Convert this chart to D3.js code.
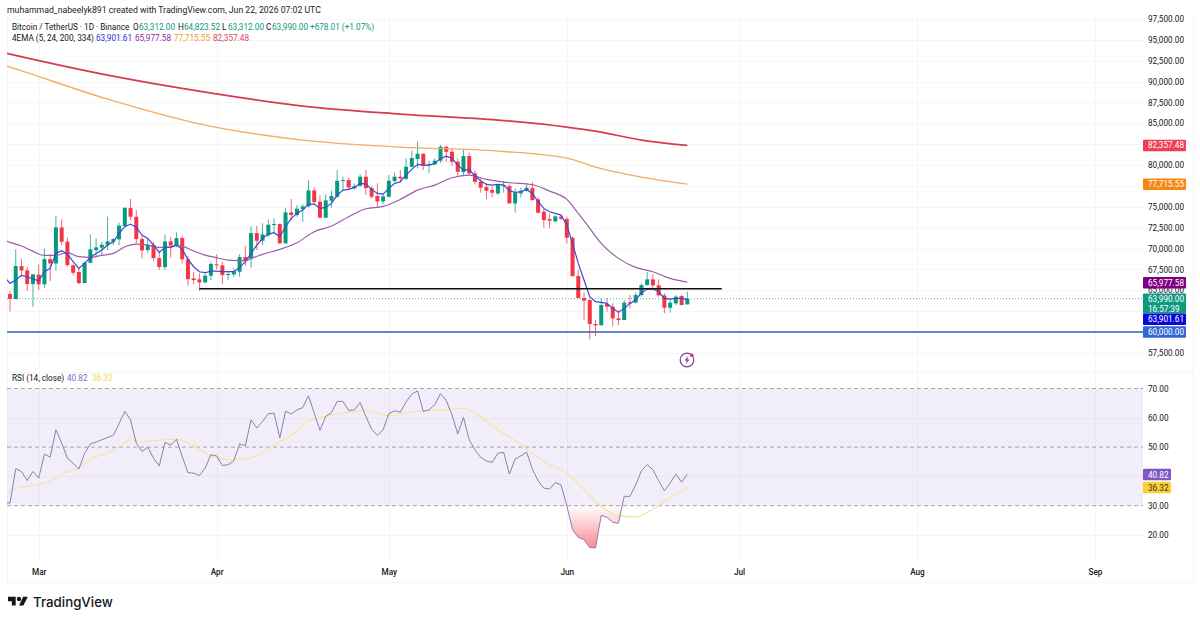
<!DOCTYPE html>
<html>
<head>
<meta charset="utf-8">
<title>Bitcoin / TetherUS daily</title>
<script src="https://d3js.org/d3.v7.min.js"></script>
<style>
  html, body { margin: 0; padding: 0; background: #fff; }
  svg { display: block; font-family: Roboto, sans-serif; }
  text { fill: #131722; }
</style>
</head>
<body>
<svg id="chart" width="1200" height="622"></svg>
<script>
// Daily BTC/USDT candles, one entry per day from 24 Feb 2026 to 22 Jun 2026.
const opens = [64550,63950,67900,67385,65750,66865,65710,68740,68220,72535,70820,67985,67185,65870,68305,69820,70100,70460,70820,71100,
  72695,74850,73810,71135,69820,70460,68860,67785,70860,70340,71255,68705,66425,66305,65950,66745,68105,67985,66865,66905,
  67225,68980,68825,71855,70940,71575,72815,72935,70620,74330,74010,74730,75050,76965,75610,73695,75730,76210,78165,78205,
  77205,77525,78605,77245,76290,75650,76210,78085,78605,78365,79800,80720,81360,79960,80080,80520,82195,81595,80400,79160,
  81080,79000,78005,77365,77005,76605,77525,77485,75410,76605,76925,77245,75890,74410,73535,73255,73815,73535,71295,66705,
  64070,63830,60960,60800,63355,63035,61635,61435,63555,63515,64430,65630,66305,65590,64390,62915,63435,64310,63312];
const highs = [64950,69900,68780,67825,66945,68105,70020,69300,73930,73495,71300,68105,67625,68425,71695,71215,70820,73810,71215,73095,
  74890,75930,74610,71535,71215,70820,69540,71695,71415,71935,71535,69100,67225,67025,67025,68425,69300,68425,67225,67625,
  69340,70300,72695,72735,73015,73495,73615,73015,74810,75930,75210,75330,78165,77325,76410,76490,76925,79400,78605,78485,
  77805,78885,79400,77525,77805,76605,78805,79120,79400,80800,81715,82795,81400,80520,80800,82395,82315,81995,80800,81875,
  81475,79320,78405,77805,77405,77685,78125,77685,77205,77325,77685,78005,76130,74810,74210,74010,74010,73815,71415,67425,
  64710,63910,61435,64030,64030,63435,62635,63830,64430,64710,65830,67225,66905,66305,64630,63910,64430,64430,64823.52];
const lows = [62475,63950,66630,64950,63035,65030,65310,66110,67345,70420,67825,66825,65710,65870,68225,69100,69220,69820,70420,70420,
  72615,73415,70620,68820,69500,68545,67425,67425,68900,70140,68225,65550,65710,64950,65830,66230,67545,65710,66230,66585,
  66625,67945,67705,69820,70420,71415,71815,70540,70620,73415,73815,73215,74930,75330,73695,73695,74890,76090,77005,77085,
  77085,77405,76410,76010,74930,75330,76130,78005,77885,78205,79720,79600,79400,79080,80000,80280,80400,79880,78685,78800,
  78800,77685,76685,75930,76130,76405,76685,75410,74290,76130,76805,75730,74210,72495,72415,73215,73415,70620,66625,64070,
  61435,59120,59520,60800,62435,60720,60840,61435,62835,63435,64230,65550,65230,64230,62235,62315,63235,63195,63312];
const closes = [63990,67900,67385,65750,66905,65710,68740,68220,72535,70820,68025,67105,65870,68305,69900,70140,70460,70860,71135,72735,
  74890,73810,71135,69780,70460,68860,67785,70860,70380,71255,68705,66345,66230,65950,66745,68145,67985,66825,66945,67305,
  68980,68585,71855,70940,71695,72855,72935,70620,74330,74010,74770,75050,76965,75570,73695,75770,76290,78125,78205,77325,
  77485,78605,77245,76210,75650,76250,78125,78605,78405,79800,80840,81360,79920,80080,80520,82195,81595,80400,79200,81080,
  79000,78005,77285,76925,76685,77605,77605,75410,76685,76925,77285,75810,74290,73415,73335,73850,73575,71295,66705,64070,
  63755,60960,60800,63235,63035,61635,61435,63515,63475,64430,65630,66305,65590,64390,62915,63515,64230,63235,63990];

// EMA 5, one value per day, with a lead-in value for the day before the first candle.
const ema5 = [66627,65828,66228,66786,66627,66347,66148,67225,67625,69421,69740,69341,68423,67625,68223,68942,69421,69820,70419,70818,
  71816,72615,72934,72535,71617,71217,70419,69541,70140,70219,70419,69900,68703,67824,67225,67106,67305,67305,67225,67225,
  67226,67745,68423,69422,70420,71218,71737,71897,71417,72615,73613,74212,74611,75330,75330,74811,74930,75410,76408,77006,
  77086,77326,77805,77725,77086,76607,76527,77206,77805,78004,78803,79481,80080,80000,80000,80200,80799,81078,80799,80000,
  79401,79481,78683,78124,77685,77605,77685,77605,76926,76727,76806,77086,76607,75609,74810,74411,74212,74012,72814,70619,
  68224,66228,64232,63633,63553,63433,62835,62355,62835,63433,63832,64711,65150,65150,64830,64032,63952,64032,64032,63901.61];

// EMA 24, read at selected days (day number counted from the first candle).
const ema24Days = [0,1,3,5,7,9,11,13,15,17,19,21,23,25,27,29,30,31,33,35,37,39,42,43,45,48,51,54,57,60,63,66,69,72,75,78,81,84,88,92,95,98,100,102,104,107,110,113,116,119];
const ema24 = [70950,70738,70299,69660,69181,69181,69501,69022,68942,69181,69421,70219,70539,70419,70140,70140,70379,70299,69700,69221,68902,68623,68543,68823,69302,69901,70699,72016,72695,73813,74771,75050,75889,77006,77605,78483,78802,78283,77884,77645,76886,75888,74212,72416,70619,68823,67744,67225,66427,65977.58];

// EMA 200 and EMA 334, slow curves read at wider steps.
const slowDays = [0,1,18,35,52,69,86,98,103,111,119];
const ema200 = [91950,91736,87904,84790,82994,82156,81676,80838,79760,78563,77715.55];
const ema334 = [93450,93293,90778,88742,87066,86108,85389,84551,84072,82994,82357.48];

// RSI 14 per day, with its lead-in value, and the moving average at selected days.
const rsi = [31.1,30.9,42.6,41.7,38.6,41.7,39.4,47.6,46.6,55.9,51.4,46.2,44.5,42.5,47.9,51.1,51.7,52.5,53.3,54.0,
  58.0,62.2,59.3,51.4,48.5,50.0,46.2,43.6,51.6,50.7,52.7,46.8,41.3,41.1,40.3,42.8,47.4,47.0,43.7,44.0,
  45.3,51.1,50.5,59.3,56.5,58.8,61.4,61.6,53.1,62.2,61.3,62.7,63.5,67.5,61.6,55.7,60.5,61.8,65.6,65.6,
  62.5,62.7,65.2,60.5,56.1,54.0,55.9,61.4,62.4,61.9,65.4,68.1,69.2,62.2,62.7,64.5,68.2,65.9,61.0,54.5,
  60.1,52.5,49.1,46.5,45.3,44.8,47.9,48.2,40.8,45.9,47.0,48.3,42.5,38.5,36.0,35.7,37.9,37.1,30.0,21.8,
  19.2,18.4,15.7,15.6,26.7,26.0,24.3,24.0,33.2,33.2,37.1,41.9,44.0,42.3,38.5,35.1,37.7,40.8,38.0,40.82];
const rsiMaDays = [0,3,6,8,11,13,15,18,20,22,24,27,30,33,36,39,42,44,47,50,53,56,60,63,67,72,77,80,82,85,90,94,98,101,104,107,110,112,115,119];
const rsiMa = [34.3,36.3,37.1,38.5,41.7,42.8,45.9,47.9,50.2,52.5,51.9,52.3,52.7,50.5,47.0,45.7,46.0,47.0,50.8,54.0,58.8,60.5,61.9,62.5,60.7,62.2,62.7,63.3,61.6,57.3,50.8,45.1,41.1,35.4,29.7,26.6,26.2,27.7,31.4,36.32];

// Grid levels, tick labels and drawn levels.
const priceGrid = [57500,60000,62500,65000,67500,70000,72500,75000,77500,80000,82500,85000,87500,90000,92500,95000,97500];
const priceTicks = [57500,60000,65000,67500,70000,72500,75000,77500,80000,82500,85000,87500,90000,92500,95000,97500];
const rsiGrid = [20,40,60];
const rsiTicks = [20,30,50,60,70];
const rsiBands = [70,50,30];
const supportLevel = 60000;
const resistanceLevel = 65186;
const resistanceFromDay = 34, resistanceToDay = 125;

const headerRows = [
  [{ t: "Bitcoin / TetherUS · 1D · Binance", x: 12 }, { t: "O", x: 133 }, { t: "63,312.00", x: 139, c: "#089981" },
   { t: "H", x: 178 }, { t: "64,823.52", x: 184, c: "#089981" }, { t: "L", x: 222 }, { t: "63,312.00", x: 228, c: "#089981" },
   { t: "C", x: 266 }, { t: "63,990.00", x: 272, c: "#089981" }, { t: "+678.01 (+1.07%)", x: 310, c: "#089981" }],
  [{ t: "4EMA (5, 24, 200, 334)", x: 12 }, { t: "63,901.61", x: 96, c: "#2a2ad0" }, { t: "65,977.58", x: 135, c: "#8e24aa" },
   { t: "77,715.55", x: 174, c: "#f59a23" }, { t: "82,357.48", x: 213, c: "#e0405a" }]
];

const upColor = "#089981", downColor = "#f23645";
const plotLeft = 7, plotRight = 1143, axisX = 1148;
const smallFont = 8.2;

const dayZero = Date.UTC(2026, 1, 23);
const dayDate = d => new Date(dayZero + d * 864e5);

const svg = d3.select("#chart");
const x = d3.scaleUtc().domain([dayDate(1), dayDate(190)]).range([10, 1094.9]);
const xd = d => x(dayDate(d));
const yPrice = d3.scaleLinear().domain([57500, 97500]).range([352.9, 19]);
const yRsi = d3.scaleLinear().domain([20, 70]).range([535, 388.5]);

const defs = svg.append("defs");
defs.append("clipPath").attr("id", "clipPrice").append("rect")
  .attr("x", plotLeft).attr("y", 14).attr("width", plotRight - plotLeft).attr("height", 358);
defs.append("clipPath").attr("id", "clipRsi").append("rect")
  .attr("x", plotLeft).attr("y", 373).attr("width", plotRight - plotLeft).attr("height", 190);
defs.append("clipPath").attr("id", "clipOversold").append("rect")
  .attr("x", plotLeft).attr("y", yRsi(30)).attr("width", plotRight - plotLeft).attr("height", 60);
const oversold = defs.append("linearGradient").attr("id", "oversoldFill")
  .attr("gradientUnits", "userSpaceOnUse").attr("x1", 0).attr("x2", 0)
  .attr("y1", yRsi(30)).attr("y2", yRsi(15));
oversold.append("stop").attr("offset", 0).attr("stop-color", "#f23645").attr("stop-opacity", 0);
oversold.append("stop").attr("offset", 1).attr("stop-color", "#f23645").attr("stop-opacity", 0.6);

// Outer frame of the chart
const frame = svg.append("g").attr("stroke", "#f5f5f5").attr("fill", "none");
frame.append("path").attr("d", "M7.5,16V582.5H1193.5V16");
frame.append("path").attr("d", "M7,372.5H1193");

// Grid
const monthTicks = x.ticks(d3.utcMonth.every(1)).filter(d => d >= new Date(Date.UTC(2026, 2, 1)));
const grid = svg.append("g").attr("stroke", "#f6f6f7").attr("stroke-width", 1);
grid.selectAll(".vgrid").data(monthTicks).join("line").attr("class", "vgrid")
  .attr("x1", d => Math.round(x(d)) + 0.5).attr("x2", d => Math.round(x(d)) + 0.5)
  .attr("y1", 16).attr("y2", 562);
grid.selectAll(".hgrid").data(priceGrid).join("line").attr("class", "hgrid")
  .attr("x1", plotLeft).attr("x2", plotRight)
  .attr("y1", d => Math.round(yPrice(d)) + 0.5).attr("y2", d => Math.round(yPrice(d)) + 0.5);
grid.selectAll(".rgrid").data(rsiGrid).join("line").attr("class", "rgrid")
  .attr("x1", plotLeft).attr("x2", plotRight)
  .attr("y1", d => Math.round(yRsi(d)) + 0.5).attr("y2", d => Math.round(yRsi(d)) + 0.5);

// Axes
const styleAxis = g => {
  g.select(".domain").remove();
  g.selectAll(".tick line").remove();
  g.selectAll("text").attr("fill", "#131722").style("font-family", "Roboto, sans-serif").style("font-size", smallFont + "px");
};
svg.append("g").attr("transform", `translate(${axisX - 3},0)`)
  .call(d3.axisRight(yPrice).tickValues(priceTicks).tickSize(0).tickPadding(3).tickFormat(d3.format(",.2f")))
  .call(styleAxis);
svg.append("g").attr("transform", `translate(${axisX - 3},0)`)
  .call(d3.axisRight(yRsi).tickValues(rsiTicks).tickSize(0).tickPadding(3).tickFormat(d3.format(".2f")))
  .call(styleAxis);
svg.append("g").attr("transform", "translate(0,566)")
  .call(d3.axisBottom(x).tickValues(monthTicks).tickSize(0).tickPadding(3).tickFormat(d3.utcFormat("%b")))
  .call(styleAxis)
  .selectAll("text").style("font-weight", 500);

// Price pane
const pricePane = svg.append("g").attr("clip-path", "url(#clipPrice)");
pricePane.append("line").attr("x1", plotLeft).attr("x2", plotRight)
  .attr("y1", yPrice(closes[closes.length - 1])).attr("y2", yPrice(closes[closes.length - 1]))
  .attr("stroke", upColor).attr("stroke-dasharray", "1 2").attr("opacity", 0.7);

const candles = d3.range(opens.length).map(i => ({
  day: i + 1, o: opens[i], h: highs[i], l: lows[i], c: closes[i]
}));
const candle = pricePane.selectAll(".candle").data(candles).join("g").attr("class", "candle");
const candleColor = d => d.c >= d.o ? upColor : downColor;
candle.append("line").attr("x1", d => xd(d.day)).attr("x2", d => xd(d.day))
  .attr("y1", d => yPrice(d.h)).attr("y2", d => yPrice(d.l))
  .attr("stroke", candleColor).attr("stroke-opacity", 0.75);
candle.append("rect").attr("x", d => xd(d.day) - 2).attr("width", 4)
  .attr("y", d => yPrice(Math.max(d.o, d.c)))
  .attr("height", d => Math.max(1, Math.abs(yPrice(d.o) - yPrice(d.c))))
  .attr("fill", candleColor);

const priceLine = d3.line().x(d => xd(d[0])).y(d => yPrice(d[1])).curve(d3.curveMonotoneX);
const drawEma = (days, values, color, width) => pricePane.append("path")
  .attr("d", priceLine(days.map((d, i) => [d, values[i]])))
  .attr("fill", "none").attr("stroke", color).attr("stroke-width", width);
drawEma(slowDays, ema334, "#d93a52", 1.7);
drawEma(slowDays, ema200, "#f5ab62", 1.4);
drawEma(ema24Days, ema24, "#9a5ca6", 1.2);
pricePane.append("path")
  .attr("d", d3.line().x((d, i) => xd(i)).y(d => yPrice(d))(ema5))
  .attr("fill", "none").attr("stroke", "#3d46d6").attr("stroke-width", 1.2);

pricePane.append("line")
  .attr("x1", xd(resistanceFromDay)).attr("x2", xd(resistanceToDay))
  .attr("y1", yPrice(resistanceLevel)).attr("y2", yPrice(resistanceLevel))
  .attr("stroke", "#111").attr("stroke-width", 1.6);
pricePane.append("line").attr("x1", plotLeft).attr("x2", plotRight)
  .attr("y1", yPrice(supportLevel)).attr("y2", yPrice(supportLevel))
  .attr("stroke", "#2f64b8").attr("stroke-width", 1.5);

// Alert marker under the last candles
const marker = svg.append("g").attr("transform", "translate(687,360)");
marker.append("circle").attr("r", 6.8).attr("fill", "#fff").attr("stroke", "#7a3d8f").attr("stroke-width", 1.2);
marker.append("path").attr("d", "M1.2,-4L-2.4,0.6H-0.2L-1.2,4L2.4,-0.6H0.2Z").attr("fill", "#7a3d8f");
marker.append("circle").attr("cx", 4.8).attr("cy", -4.8).attr("r", 1.8).attr("fill", "#e5395a");

// RSI pane
const rsiPane = svg.append("g").attr("clip-path", "url(#clipRsi)");
rsiPane.append("rect").attr("x", plotLeft).attr("width", plotRight - plotLeft)
  .attr("y", yRsi(70)).attr("height", yRsi(30) - yRsi(70)).attr("fill", "#7e57c2").attr("fill-opacity", 0.1);
rsiPane.selectAll(".band").data(rsiBands).join("line").attr("class", "band")
  .attr("x1", plotLeft).attr("x2", plotRight)
  .attr("y1", d => yRsi(d)).attr("y2", d => yRsi(d))
  .attr("stroke", "#a5a3ac").attr("stroke-dasharray", "4 3");
rsiPane.append("path")
  .attr("d", d3.area().x((d, i) => xd(i)).y0(yRsi(30)).y1(d => yRsi(d))(rsi))
  .attr("fill", "url(#oversoldFill)").attr("clip-path", "url(#clipOversold)");
rsiPane.append("path")
  .attr("d", d3.line().x(d => xd(d[0])).y(d => yRsi(d[1])).curve(d3.curveMonotoneX)(rsiMaDays.map((d, i) => [d, rsiMa[i]])))
  .attr("fill", "none").attr("stroke", "#f3e6a2").attr("stroke-width", 1.2);
rsiPane.append("path")
  .attr("d", d3.line().x((d, i) => xd(i)).y(d => yRsi(d))(rsi))
  .attr("fill", "none").attr("stroke", "#8a7fae").attr("stroke-width", 1);

// Value tags on the right edge
const tag = (yCenter, h, w, fill, lines, textFill = "#fff") => {
  const g = svg.append("g");
  g.append("rect").attr("x", plotRight).attr("y", yCenter - h / 2).attr("width", w).attr("height", h).attr("rx", 1).attr("fill", fill);
  lines.forEach((t, i) => g.append("text").attr("x", axisX).attr("y", yCenter - h / 2 + 8.8 + i * 9.6)
    .style("fill", textFill).style("font-size", smallFont + "px").text(t));
};
const fmt = d3.format(",.2f");
tag(yPrice(ema334[ema334.length - 1]), 11.5, 43, "#ee3f55", [fmt(ema334[ema334.length - 1])]);
tag(yPrice(ema200[ema200.length - 1]), 11.5, 43, "#f5880f", [fmt(ema200[ema200.length - 1])]);
tag(282.8, 11.5, 43, "#800080", [fmt(ema24[ema24.length - 1])]);
tag(303.5, 20, 43, "#0f9a80", [fmt(closes[closes.length - 1]), "16:57:39"]);
tag(319.3, 11.5, 43, "#0808d8", [fmt(ema5[ema5.length - 1])]);
tag(yPrice(supportLevel), 11.5, 43, "#3566d6", [fmt(supportLevel)]);
tag(474.6, 11.5, 28, "#7e57c2", [d3.format(".2f")(rsi[rsi.length - 1])]);
tag(487.6, 11.5, 28, "#fdd02f", [d3.format(".2f")(rsiMa[rsiMa.length - 1])], "#333");

// Header text
const label = (t, xPos, yPos, color = "#131722", size = smallFont) => svg.append("text")
  .attr("x", xPos).attr("y", yPos).style("fill", color).style("font-size", size + "px").text(t);
label("muhammad_nabeelyk891 created with TradingView.com, Jun 22, 2026 07:02 UTC", 7, 13, "#222", 8.7);
headerRows.forEach((row, r) => row.forEach(s => label(s.t, s.x, 30 + r * 11, s.c || "#131722")));
label("RSI (14, close)", 12, 381, "#131722");
label(d3.format(".2f")(rsi[rsi.length - 1]), 67, 381, "#7e6fc0");
label(d3.format(".2f")(rsiMa[rsiMa.length - 1]), 92, 381, "#f2d64b");

// Wordmark
const brand = svg.append("g").attr("transform", "translate(8,593.5) scale(0.55)");
brand.append("path").attr("d", "M14 6H0v8h7v8h7V6Zm14 16h-8l7.5-16H36l-8 16Zm-8-16a4 4 0 1 0 0 8 4 4 0 0 0 0-8Z").attr("fill", "#131722");
svg.append("text").attr("x", 33).attr("y", 607).style("font-family", "Inter, sans-serif").style("font-weight", 500)
  .style("font-size", "13.3px").style("fill", "#131722").text("TradingView");
</script>
</body>
</html>
